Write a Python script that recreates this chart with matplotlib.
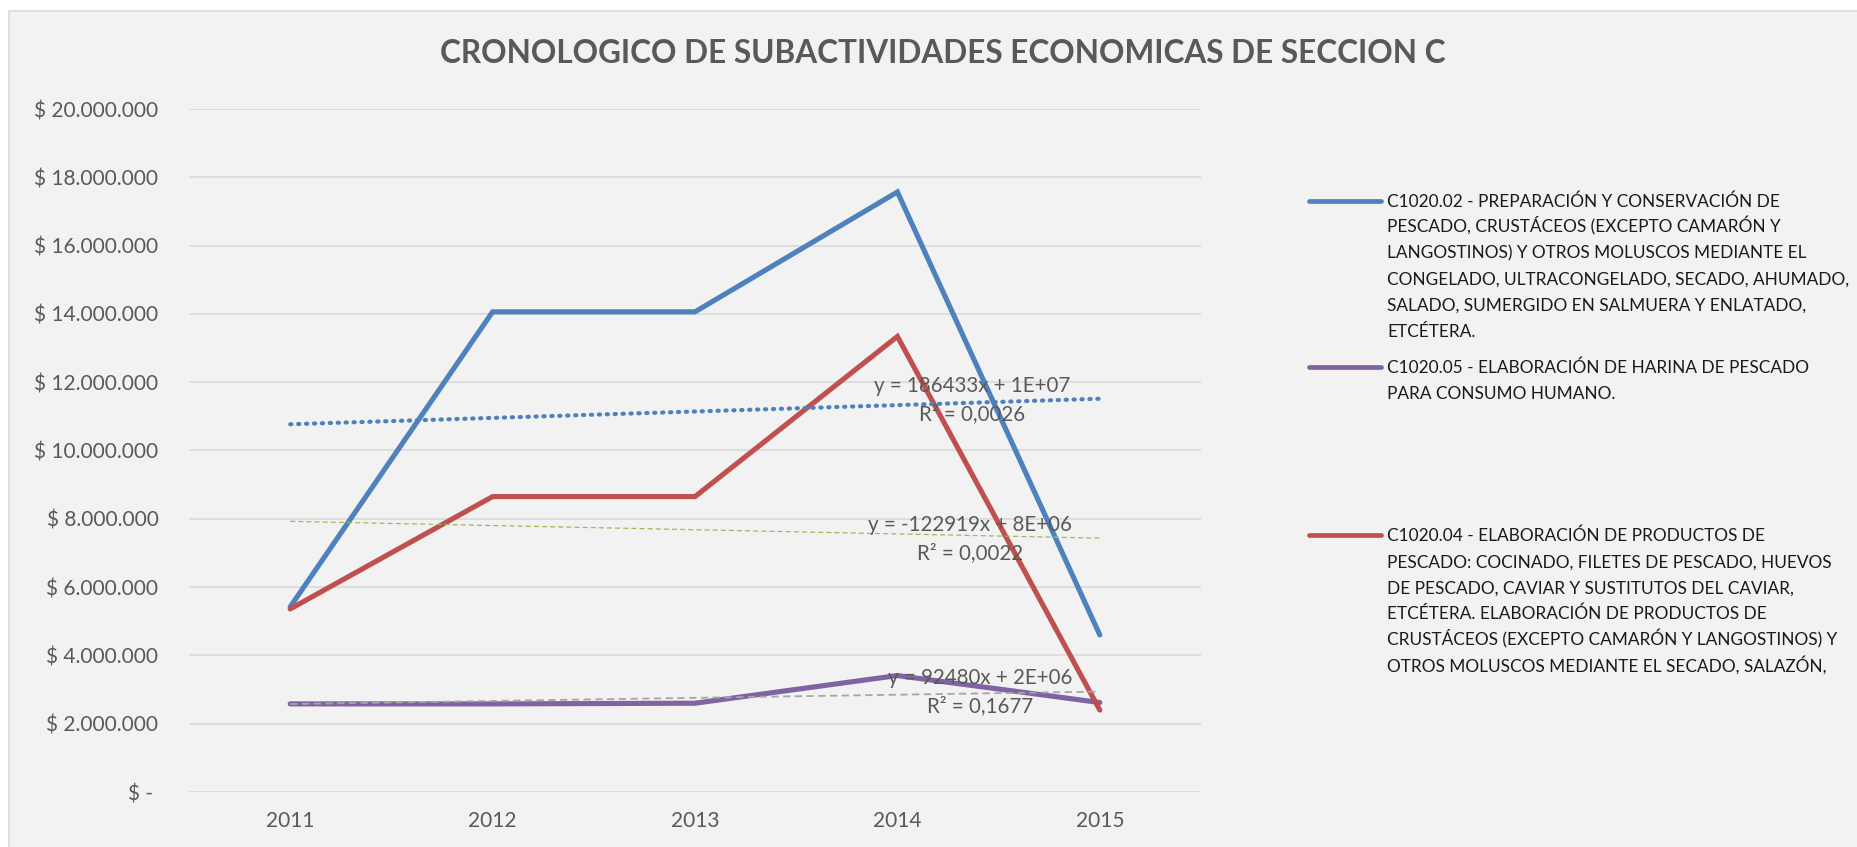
import numpy as np
import matplotlib.pyplot as plt
from matplotlib.lines import Line2D
from matplotlib.patches import Rectangle
from matplotlib.ticker import FuncFormatter, MultipleLocator

plt.rcParams['font.family'] = ['Lato', 'DejaVu Sans']

# datos
years = ['2011', '2012', '2013', '2014', '2015']
c1020_02 = [5.42e6, 14.06e6, 14.06e6, 17.57e6, 4.60e6]
c1020_05 = [2.58e6, 2.58e6, 2.60e6, 3.41e6, 2.62e6]
c1020_04 = [5.36e6, 8.65e6, 8.65e6, 13.34e6, 2.40e6]

label_02 = ('C1020.02 - PREPARACIÓN Y CONSERVACIÓN DE\n'
            'PESCADO, CRUSTÁCEOS (EXCEPTO CAMARÓN Y\n'
            'LANGOSTINOS) Y OTROS MOLUSCOS MEDIANTE EL\n'
            'CONGELADO, ULTRACONGELADO, SECADO, AHUMADO,\n'
            'SALADO, SUMERGIDO EN SALMUERA Y ENLATADO,\n'
            'ETCÉTERA.')
label_05 = ('C1020.05 - ELABORACIÓN DE HARINA DE PESCADO\n'
            'PARA CONSUMO HUMANO.')
label_04 = ('C1020.04 - ELABORACIÓN DE PRODUCTOS DE\n'
            'PESCADO: COCINADO, FILETES DE PESCADO, HUEVOS\n'
            'DE PESCADO, CAVIAR Y SUSTITUTOS DEL CAVIAR,\n'
            'ETCÉTERA. ELABORACIÓN DE PRODUCTOS DE\n'
            'CRUSTÁCEOS (EXCEPTO CAMARÓN Y LANGOSTINOS) Y\n'
            'OTROS MOLUSCOS MEDIANTE EL SECADO, SALAZÓN,')

trend_eq = ['y = 186433x + 1E+07\nR² = 0,0026',
            'y = 92480x + 2E+06\nR² = 0,1677',
            'y = -122919x + 8E+06\nR² = 0,0022']

series = [c1020_02, c1020_05, c1020_04]
labels = [label_02, label_05, label_04]
colors = ['#4F81BD', '#8064A2', '#C0504D']
trend_colors = ['#4F81BD', '#A6A6A6', '#9BBB59']
trend_styles = [(0, (0.3, 1.6)), (0, (4, 2.5)), (0, (4, 2.5))]
trend_widths = [3.0, 1.3, 0.9]
trend_caps = ['round', 'butt', 'butt']
eq_pos = [(3.37, 11.48e6), (3.41, 2.93e6), (3.36, 7.41e6)]

TEXT = '#595959'
W, H = 1858, 847

fig = plt.figure(figsize=(W / 100, H / 100), dpi=100, facecolor='white')
fig.patches.append(Rectangle((9.5 / W, -0.05), 1.0, 1 - 10.7 / H + 0.05, transform=fig.transFigure,
                             facecolor='#F2F2F2', edgecolor='#D9D9D9', lw=1.2, zorder=-10))

ax = fig.add_axes([189 / W, 1 - 792 / H, 1012 / W, 683 / H])
ax.set_facecolor('none')
x = np.arange(len(years))

lines = []
for vals, lab, col in zip(series, labels, colors):
    ln, = ax.plot(x, vals, color=col, lw=3.7, solid_capstyle='round', solid_joinstyle='miter', label=lab, zorder=3)
    lines.append(ln)
# la roja encima
lines[2].set_zorder(3.5)

# lineas de tendencia lineal
for vals, col, ls, lw, cap, eq, pos in zip(series, trend_colors, trend_styles, trend_widths, trend_caps, trend_eq, eq_pos):
    m, b = np.polyfit(x, vals, 1)
    ax.plot(x, m * x + b, color=col, lw=lw, linestyle=ls, dash_capstyle=cap, zorder=4)
    ax.text(pos[0], pos[1], eq, ha='center', va='center', fontsize=14.8, color=TEXT, linespacing=1.47, zorder=5)

ax.set_xlim(-0.5, 4.5)
ax.set_ylim(0, 20e6)
ax.set_xticks(x)
ax.set_xticklabels(years)
ax.yaxis.set_major_locator(MultipleLocator(2e6))
ax.yaxis.set_major_formatter(FuncFormatter(lambda v, p: '$ - ' if v == 0 else '$ ' + f'{v:,.0f}'.replace(',', '.')))
ax.tick_params(length=0, labelsize=15, labelcolor=TEXT)
ax.tick_params(axis='y', pad=22)
ax.tick_params(axis='x', pad=14)
ax.grid(axis='y', color='#D9D9D9', lw=1.2)
ax.set_axisbelow(True)
for s in ax.spines.values():
    s.set_visible(False)

fig.text(440 / W, 0.937, 'CRONOLOGICO DE SUBACTIVIDADES ECONOMICAS DE SECCION C',
         ha='left', va='center', fontsize=22.7, fontweight='bold', color=TEXT)

# leyenda a la derecha: muestra de linea alineada con la primera linea del texto
leg_fs = 12.4
cap_half = 0.717 * leg_fs / 72 * 100 / 2
first_y = [200.7, 367.3, 535.0]
pitch = 26.0
for ln, lab, y0 in zip(lines, labels, first_y):
    fig.add_artist(Line2D([1309 / W, 1381 / W], [1 - y0 / H, 1 - y0 / H], transform=fig.transFigure,
                          color=ln.get_color(), lw=3.4, solid_capstyle='round'))
    for i, txt in enumerate(lab.split('\n')):
        fig.text(1387 / W, 1 - (y0 + i * pitch + cap_half) / H, txt, ha='left', va='baseline',
                 fontsize=leg_fs, color='#1a1a1a')

fig.savefig('out.png', dpi=100, facecolor=fig.get_facecolor())
